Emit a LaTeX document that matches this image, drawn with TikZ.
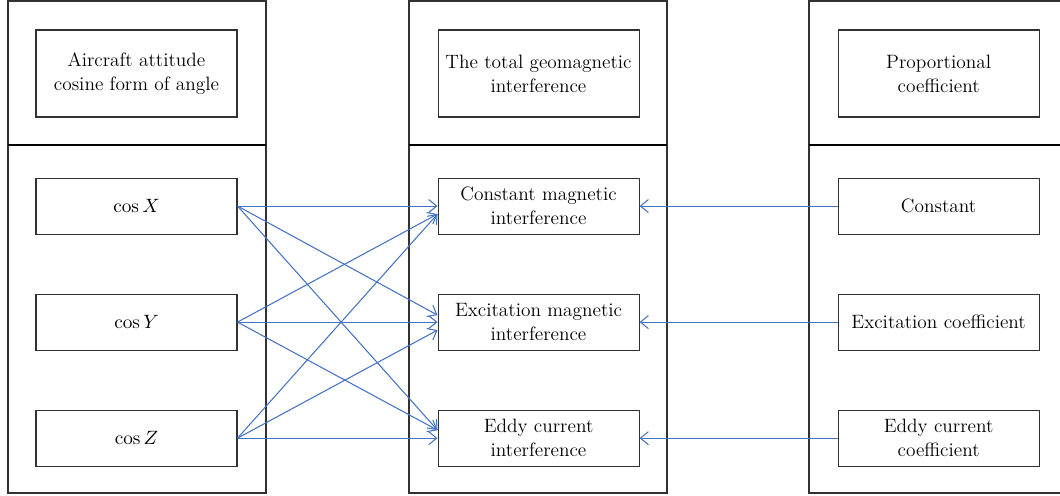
\documentclass[tikz,border=0pt]{standalone}
\usepackage{amsmath}
\usetikzlibrary{positioning, arrows.meta}
\definecolor{linkblue}{RGB}{68,114,196}
\definecolor{framegray}{RGB}{50,50,50}

\begin{document}
\begin{tikzpicture}[x=0.2mm, y=-0.2mm,
    headbox/.style={draw=framegray, line width=0.6pt, minimum width=40.2mm, minimum height=17.4mm,
      inner xsep=1pt, align=center, font=\fontsize{11}{13.6}\selectfont},
    itembox/.style={headbox, minimum height=11.2mm},
    column/.style={draw=framegray, line width=0.7pt},
    link/.style={-{Straight Barb[length=1.6mm, width=2.6mm]}, linkblue, line width=0.6pt}]
    \useasboundingbox (0,0) rectangle (1060,496);

    % columns
    \draw[column] (8,1) rectangle (266,493);
    \draw[column] (409,1) rectangle (667,493);
    \draw[column] (809,1) rectangle (1080,493);
    \draw[line width=1pt] (8,145) -- (266,145);
    \draw[line width=1pt] (409,145) -- (667,145);
    \draw[line width=1pt] (809,145) -- (1080,145);

    % left column
    \node[headbox] (angle) at (136.5,73.5) {Aircraft attitude\\cosine form of angle};
    \node[itembox] (cosx) [below=12mm of angle] {$\cos X$};
    \node[itembox] (cosy) [below=11.8mm of cosx] {$\cos Y$};
    \node[itembox] (cosz) [below=11.8mm of cosy] {$\cos Z$};

    % middle column
    \node[headbox] (total) [right=40mm of angle] {The total geomagnetic\\interference};
    \node[itembox] (const) [right=40mm of cosx] {Constant magnetic\\interference};
    \node[itembox] (exc) [right=40mm of cosy] {Excitation magnetic\\interference};
    \node[itembox] (eddy) [right=40mm of cosz] {Eddy current\\interference};

    % right column
    \node[headbox] (coef) [right=39.6mm of total] {Proportional\\coefficient};
    \node[itembox] (cconst) [right=39.6mm of const] {Constant};
    \node[itembox] (cexc) [right=39.6mm of exc] {Excitation coefficient};
    \node[itembox] (ceddy) [right=39.6mm of eddy] {Eddy current\\coefficient};

    \draw[link] (cosx.east) -- (const.west);
    \draw[link] (cosx.east) -- ([yshift=1.4mm]exc.west);
    \draw[link] (cosx.east) -- ([yshift=1.6mm]eddy.west);
    \draw[link] (cosy.east) -- ([yshift=-1.6mm]const.west);
    \draw[link] (cosy.east) -- (exc.west);
    \draw[link] (cosy.east) -- ([yshift=1.6mm]eddy.west);
    \draw[link] (cosz.east) -- ([yshift=-1.6mm]const.west);
    \draw[link] (cosz.east) -- ([yshift=-1.6mm]exc.west);
    \draw[link] (cosz.east) -- (eddy.west);

    \draw[link] (cconst.west) -- (const.east);
    \draw[link] (cexc.west) -- (exc.east);
    \draw[link] (ceddy.west) -- (eddy.east);
\end{tikzpicture}
\end{document}
